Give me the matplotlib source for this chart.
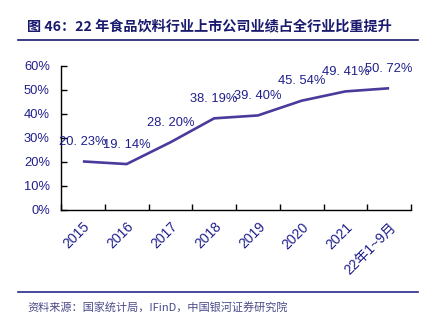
import matplotlib.pyplot as plt
import numpy as np

plt.rcParams['font.family'] = ['Liberation Sans', 'Noto Sans CJK SC']

categories = ['2015', '2016', '2017', '2018', '2019', '2020', '2021', '22年1~9月']
values = [20.23, 19.14, 28.20, 38.19, 39.40, 45.54, 49.41, 50.72]
labels = ['20. 23%', '19. 14%', '28. 20%', '38. 19%', '39. 40%', '45. 54%', '49. 41%', '50. 72%']

navy = '#1f1f8c'
line_col = '#4a3a9c'

fig = plt.figure(figsize=(4.35, 3.36), dpi=100)
ax = fig.add_axes([61 / 435, 126 / 336, 350 / 435, 144 / 336])

x = np.arange(len(categories))
ax.plot(x, values, color=line_col, lw=1.9, solid_capstyle='butt')
for xi, v, lab in zip(x, values, labels):
    ax.annotate(lab, (xi, v), xytext=(0, 14), textcoords='offset points',
                ha='center', va='center', fontsize=9.3, color=navy)

ax.set_xlim(-0.5, len(categories) - 0.5)
ax.set_ylim(0, 60)
ax.set_yticks(np.arange(0, 61, 10))
ax.set_yticklabels(['%d%%' % t for t in range(0, 61, 10)], color=navy, fontsize=9.3)
ax.set_xticks(x)
ax.set_xticklabels(categories, rotation=45, ha='right', rotation_mode='anchor',
                   color=navy, fontsize=10,
                   family=['Liberation Sans', 'Noto Sans CJK SC'])
ax.set_xticks(np.arange(-0.5, len(categories)), minor=True)
ax.tick_params(axis='x', which='major', length=0, pad=7)
ax.tick_params(axis='x', which='minor', direction='in', length=4, width=1)
ax.tick_params(axis='y', direction='in', length=4, width=1, pad=8)
for s in ['top', 'right']:
    ax.spines[s].set_visible(False)
for s in ['left', 'bottom']:
    ax.spines[s].set_linewidth(1)

# title and footer
fig.text(27 / 435, 1 - 26 / 336, '图 46：22 年食品饮料行业上市公司业绩占全行业比重提升',
         fontsize=10.2, fontweight='bold', color='#1a1a6e', va='center',
         family=['Noto Sans CJK SC', 'DejaVu Sans'])
fig.add_artist(plt.Line2D([18 / 435, 418 / 435], [1 - 40 / 336, 1 - 40 / 336],
                          color='#1a1a6e', lw=1.2))
fig.add_artist(plt.Line2D([18 / 435, 418 / 435], [1 - 292 / 336, 1 - 292 / 336],
                          color='#2a2a8a', lw=1.2))
fig.text(27 / 435, 1 - 307 / 336, '资料来源：国家统计局，IFinD，中国银河证券研究院',
         fontsize=8, style='italic', color='#4a4a8a', va='center',
         family=['Noto Sans CJK SC', 'DejaVu Sans'])

fig.savefig('out.png', dpi=100)
